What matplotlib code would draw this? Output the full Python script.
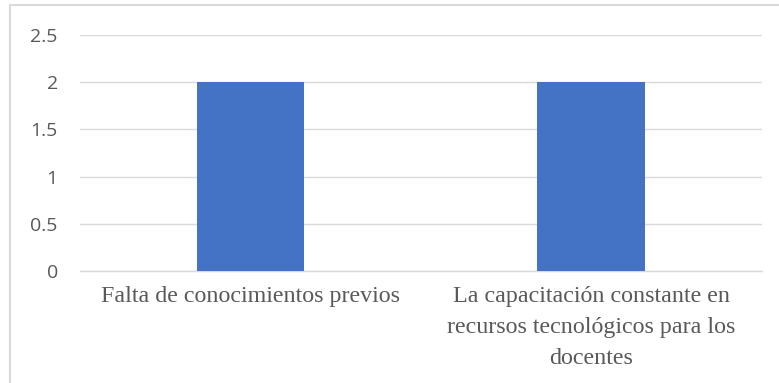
import matplotlib.pyplot as plt
from matplotlib.patches import Rectangle

categories = ["Falta de conocimientos previos",
              "La capacitación constante en\nrecursos tecnológicos para los\ndocentes"]
values = [2, 2]
yticks = [0, 0.5, 1, 1.5, 2, 2.5]

W, H = 779, 383
fig = plt.figure(figsize=(W / 100, H / 100), dpi=100)

# light grey frame around the chart (runs off the right/bottom edge)
fig.patches.append(Rectangle((9.5 / W, -0.05), 1.2, 1 - 5.5 / H + 0.05,
                             transform=fig.transFigure, fill=False,
                             edgecolor="#D9D9D9", linewidth=1.5))

ax = fig.add_axes([80 / W, 112 / H, (761.5 - 80) / W, (271 - 35) / H])
x = range(len(categories))
ax.bar(x, values, width=0.316, color="#4472C4", zorder=3)

ax.set_xlim(-0.5, len(categories) - 0.5)
ax.set_ylim(0, 2.5)
ax.set_yticks(yticks)
ax.set_yticklabels(["0", "0.5", "1", "1.5", "2", "2.5"],
                   fontfamily="Open Sans", fontsize=14, color="#595959")
ax.yaxis.grid(True, color="#D9D9D9", linewidth=1, zorder=0)
ax.tick_params(axis="y", length=0, pad=16)
ax.tick_params(axis="x", length=0, pad=11)
ax.set_xticks(list(x))
ax.set_xticklabels(categories, fontfamily="Liberation Serif", fontsize=17.3,
                   color="#595959", linespacing=1.62, va="top")

for side in ["top", "right", "left"]:
    ax.spines[side].set_visible(False)
ax.spines["bottom"].set_color("#D9D9D9")
ax.spines["bottom"].set_linewidth(1)

fig.savefig("out.png", dpi=100)
